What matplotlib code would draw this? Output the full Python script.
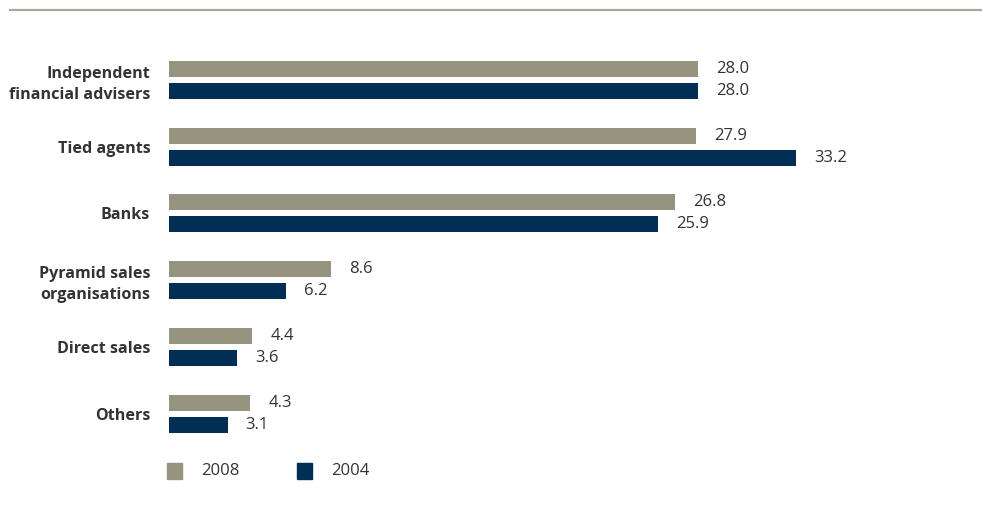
import matplotlib
matplotlib.use("Agg")
import matplotlib.pyplot as plt
from matplotlib.patches import Rectangle
from matplotlib.lines import Line2D

plt.rcParams['font.family'] = ['Open Sans', 'DejaVu Sans']

categories = ["Independent\nfinancial advisers", "Tied agents", "Banks",
              "Pyramid sales\norganisations", "Direct sales", "Others"]
values_2008 = [28.0, 27.9, 26.8, 8.6, 4.4, 4.3]
values_2004 = [28.0, 33.2, 25.9, 6.2, 3.6, 3.1]
series_labels = ["2008", "2004"]

c2008 = "#96937F"
c2004 = "#002E55"
txt = "#333333"

W, H = 982, 520
fig = plt.figure(figsize=(W / 100, H / 100), dpi=100)
ax_left = 169 / W
ax = fig.add_axes([ax_left, 1 - 446.9 / H, 1 - ax_left, (446.9 - 46.6) / H])

ypos = list(range(len(categories)))
off = 11 / 66.7
bh = 16 / 66.7
y08 = [y - off for y in ypos]
y04 = [y + off for y in ypos]
ax.barh(y08, values_2008, height=bh, color=c2008)
ax.barh(y04, values_2004, height=bh, color=c2004)

for y, v in zip(y08, values_2008):
    ax.annotate(f"{v:.1f}", (v, y), xytext=(13, 0), textcoords="offset points",
                ha="left", va="center", fontsize=12, color=txt)
for y, v in zip(y04, values_2004):
    ax.annotate(f"{v:.1f}", (v, y), xytext=(13, 0), textcoords="offset points",
                ha="left", va="center", fontsize=12, color=txt)

ax.set_xlim(0, (W - 169) / (529 / 28))
ax.set_ylim(5.5, -0.5)
ax.set_yticks(ypos)
ax.set_yticklabels(categories, fontsize=11.6, fontweight="bold", color=txt,
                   linespacing=1.38)
ax.tick_params(axis="y", length=0, pad=13.5)
ax.set_xticks([])
for s in ax.spines.values():
    s.set_visible(False)

# top rule
fig.add_artist(Line2D([10 / W, 1], [1 - 10 / H, 1 - 10 / H], color="#A9A799",
                      linewidth=1.6, transform=fig.transFigure))

# legend
for x0, col, lab in [(167, c2008, series_labels[0]), (297, c2004, series_labels[1])]:
    fig.add_artist(Rectangle((x0 / W, 1 - 479 / H), 15 / W, 16 / H,
                             color=col, transform=fig.transFigure))
    fig.text((x0 + 34) / W, 1 - 471 / H, lab, ha="left", va="center",
             fontsize=12, color=txt)

fig.savefig("out.png", dpi=100)
